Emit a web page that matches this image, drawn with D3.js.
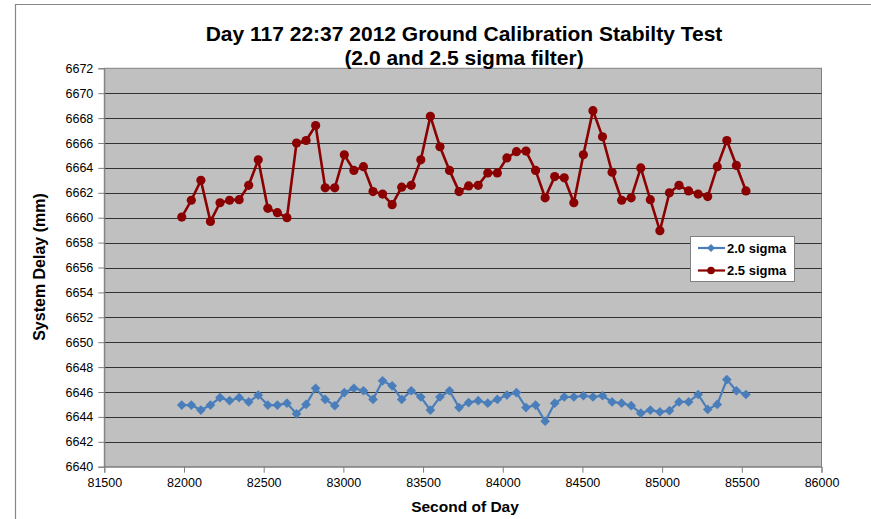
<!DOCTYPE html>
<html><head><meta charset="utf-8">
<script src="https://cdn.jsdelivr.net/npm/d3@7"></script>
<style>body{margin:0;background:#fff}svg{display:block}text{font-family:"Liberation Sans",Arial,sans-serif}</style>
</head><body>
<svg id="c" width="871" height="519"></svg>
<script>
const startSecond = 81986;
const stepSeconds = 60;
const sigma20 = [6644.95,6644.95,6644.55,6644.95,6645.55,6645.3,6645.55,6645.2,6645.75,6644.95,
 6644.95,6645.1,6644.25,6645.0,6646.3,6645.4,6644.9,6645.95,6646.3,6646.1,
 6645.4,6646.9,6646.5,6645.4,6646.1,6645.6,6644.55,6645.6,6646.1,6644.75,
 6645.15,6645.3,6645.1,6645.4,6645.75,6645.95,6644.75,6644.95,6643.65,6645.1,
 6645.6,6645.6,6645.7,6645.6,6645.7,6645.2,6645.1,6644.9,6644.3,6644.55,
 6644.4,6644.5,6645.2,6645.2,6645.8,6644.6,6645.0,6647.0,6646.1,6645.8];
const sigma25 = [6660.05,6661.4,6663.0,6659.7,6661.2,6661.4,6661.45,6662.6,6664.65,6660.75,
 6660.4,6660.0,6666.0,6666.2,6667.4,6662.4,6662.4,6665.05,6663.8,6664.1,
 6662.1,6661.9,6661.05,6662.45,6662.6,6664.65,6668.15,6665.7,6663.8,6662.1,
 6662.55,6662.6,6663.6,6663.6,6664.8,6665.3,6665.35,6663.8,6661.6,6663.3,
 6663.2,6661.2,6665.05,6668.6,6666.5,6663.65,6661.4,6661.6,6664.0,6661.45,
 6658.95,6662.0,6662.6,6662.15,6661.9,6661.7,6664.1,6666.2,6664.2,6662.15];
const xTicks = [81500,82000,82500,83000,83500,84000,84500,85000,85500,86000];
const yTicks = [6640,6642,6644,6646,6648,6650,6652,6654,6656,6658,6660,6662,6664,6666,6668,6670,6672];
const seriesNames = ["2.0 sigma","2.5 sigma"];
const seriesColors = ["#4A7EBB","#8B0000"];
const titleLines = ["Day 117 22:37 2012 Ground Calibration Stabilty Test","(2.0 and 2.5 sigma filter)"];

const svg = d3.select("#c");
const L=104.3, R=821.5, T=68.3, B=466.7;
const x = d3.scaleLinear().domain([81500,86000]).range([L,R]);
const y = d3.scaleLinear().domain([6640,6672]).range([B,T]);

// outer frame
svg.append("path").attr("d","M15.5,519 V4.5 H871").attr("fill","none").attr("stroke","#888").attr("stroke-width",1.2);

// plot area
svg.append("rect").attr("x",L).attr("y",T).attr("width",R-L).attr("height",B-T).attr("fill","#C0C0C0").attr("stroke","#808080").attr("stroke-width",1);

// gridlines
svg.append("g").selectAll("line").data(yTicks.slice(1,-1)).join("line")
 .attr("x1",L).attr("x2",R).attr("y1",d=>Math.round(y(d))+0.5).attr("y2",d=>Math.round(y(d))+0.5)
 .attr("stroke","#333").attr("stroke-width",1.1);

// axes
const yAxis = d3.axisLeft(y).tickValues(yTicks).tickSize(6).tickPadding(5).tickFormat(d3.format("d"));
const gy = svg.append("g").attr("transform",`translate(${L},0)`).call(yAxis);
const xAxis = d3.axisBottom(x).tickValues(xTicks).tickSize(6).tickPadding(5).tickFormat(d3.format("d"));
const gx = svg.append("g").attr("transform",`translate(0,${B})`).call(xAxis);
[gx,gy].forEach(g=>{
  g.select(".domain").attr("stroke","#808080");
  g.selectAll(".tick line").attr("stroke","#808080");
  g.selectAll("text").attr("font-size",12.5).attr("fill","#000").style("font-family","'Liberation Sans',Arial,sans-serif");
});

// series
const data = [sigma20, sigma25].map(arr=>arr.map((v,i)=>({t:startSecond+i*stepSeconds,v})));
const line = d3.line().x(d=>x(d.t)).y(d=>y(d.v));
svg.append("path").datum(data[0]).attr("d",line).attr("fill","none").attr("stroke",seriesColors[0]).attr("stroke-width",2.2);
svg.append("path").datum(data[1]).attr("d",line).attr("fill","none").attr("stroke",seriesColors[1]).attr("stroke-width",2.6);
const diamond = d3.symbol().type(d3.symbolDiamond2).size(60);
svg.append("g").selectAll("path").data(data[0]).join("path")
 .attr("d",diamond).attr("transform",d=>`translate(${x(d.t)},${y(d.v)})`).attr("fill",seriesColors[0]);
svg.append("g").selectAll("circle").data(data[1]).join("circle")
 .attr("cx",d=>x(d.t)).attr("cy",d=>y(d.v)).attr("r",4.6).attr("fill",seriesColors[1]);

// titles
svg.append("text").attr("x",464).attr("y",41).attr("text-anchor","middle").attr("font-size",21).attr("font-weight","bold").text(titleLines[0]);
svg.append("text").attr("x",464).attr("y",65).attr("text-anchor","middle").attr("font-size",21).attr("font-weight","bold").text(titleLines[1]);
svg.append("text").attr("x",465).attr("y",512).attr("text-anchor","middle").attr("font-size",15.5).attr("font-weight","bold").text("Second of Day");
svg.append("text").attr("transform","translate(45,267) rotate(-90)").attr("text-anchor","middle").attr("font-size",16).attr("font-weight","bold").text("System Delay (mm)");

// legend
const lg = svg.append("g");
lg.append("rect").attr("x",690.5).attr("y",236.5).attr("width",104).attr("height",45).attr("fill","#fff").attr("stroke","#808080");
seriesNames.forEach((n,i)=>{
  const yy = 248 + i*22.5;
  lg.append("line").attr("x1",698).attr("x2",725).attr("y1",yy).attr("y2",yy).attr("stroke",seriesColors[i]).attr("stroke-width",2.2);
  if(i===0) lg.append("path").attr("d",d3.symbol().type(d3.symbolDiamond2).size(40)()).attr("transform",`translate(711,${yy})`).attr("fill",seriesColors[i]);
  else lg.append("circle").attr("cx",711).attr("cy",yy).attr("r",3.8).attr("fill",seriesColors[i]);
  lg.append("text").attr("x",727).attr("y",yy+4.5).attr("font-size",13).attr("font-weight","bold").text(n);
});
</script>
</body></html>
